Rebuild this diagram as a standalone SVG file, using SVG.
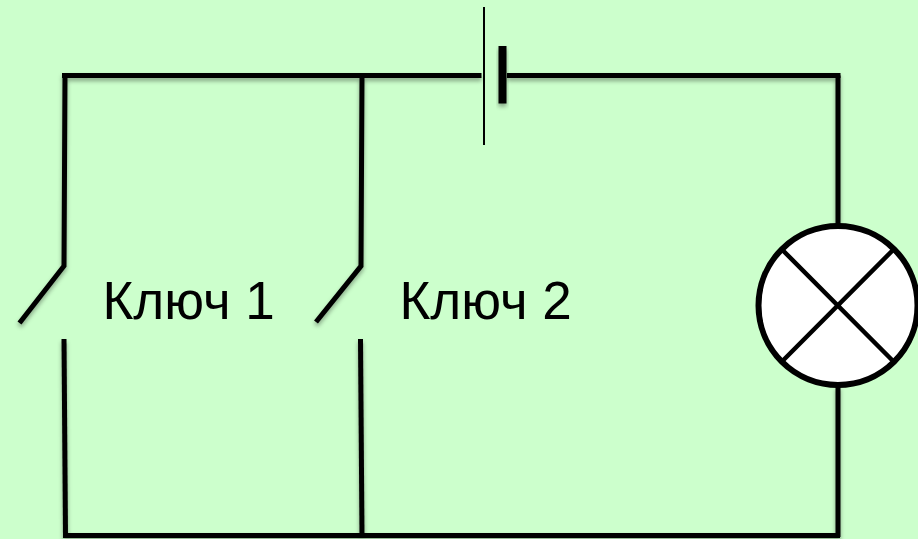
<svg xmlns="http://www.w3.org/2000/svg" width="918" height="539" viewBox="0 0 918 539">
  <style>
    .w{fill:none;stroke:#000;stroke-width:5;stroke-linecap:butt;stroke-linejoin:miter}
    .t{font-family:"Liberation Sans",Arial,sans-serif;font-size:53px;fill:#000}
  </style>
  <defs>
    <filter id="s" x="-20%" y="-20%" width="140%" height="140%" filterUnits="objectBoundingBox">
      <feDropShadow dx="0" dy="3" stdDeviation="2" flood-color="#000" flood-opacity="0.35"/>
    </filter>
  </defs>
  <rect width="918" height="539" fill="#ccffcc"/>
  <g id="connectors" filter="url(#s)">
    <path class="w" d="M62 75.500H481.500"/>
    <path class="w" d="M507 75.500H840.500"/>
    <path class="w" d="M838 75.500V225"/>
    <path class="w" d="M838 386V537"/>
    <path class="w" d="M63 535.500H840"/>
    <path class="w" d="M65 75.500L64 266L19.500 323"/>
    <path class="w" d="M64 339L65.500 535.500"/>
    <path class="w" d="M362 75.500L361 266L316 322"/>
    <path class="w" d="M360.500 339L362 535.500"/>
  </g>
  <g id="battery">
    <rect x="483" y="7" width="2" height="138" fill="#000"/>
    <rect x="498.500" y="46" width="8" height="57.500" fill="#000" filter="url(#s)"/>
  </g>
  <g id="lamp">
    <circle cx="838" cy="305.500" r="79.500" fill="#fff" stroke="#000" stroke-width="6"/>
    <path d="M781.500 249L894 362M894 249L781.500 362" fill="none" stroke="#000" stroke-width="4.500"/>
  </g>
  <g id="label-1"><text class="t" x="102.500" y="319">Ключ 1</text></g>
  <g id="label-2"><text class="t" x="399.500" y="319">Ключ 2</text></g>
</svg>
